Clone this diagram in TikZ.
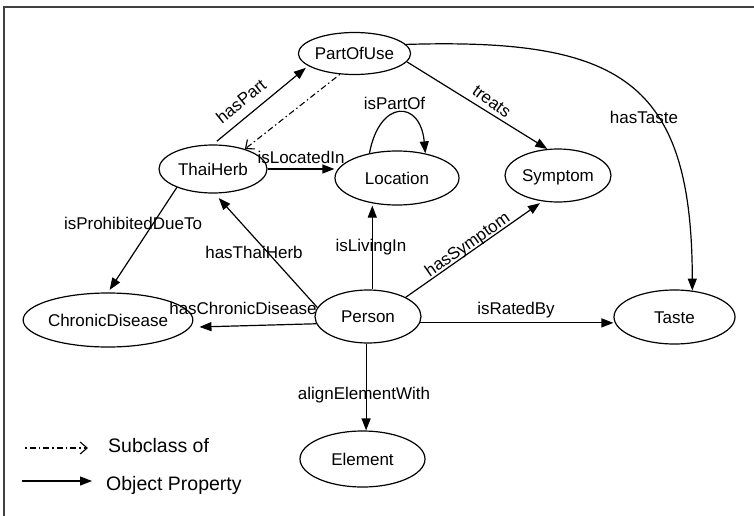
\documentclass[tikz,border=0pt]{standalone}
\usepackage{fontspec}
\setmainfont{Liberation Sans}
\usetikzlibrary{arrows.meta,shapes.geometric}
\begin{document}
\begin{tikzpicture}[x=1pt,y=-1pt,
  concept/.style={ellipse,draw,line width=1.2pt,inner sep=0pt,
    font=\fontsize{17}{20}\selectfont,text height=12pt,text depth=0pt},
  prop/.style={draw,line width=1.2pt,-{Triangle[length=12pt,width=9pt]}},
  subcls/.style={draw,line width=1.1pt,
    dash pattern=on 1.5pt off 3pt on 6pt off 3pt,
    -{Straight Barb[length=7pt,width=12pt,line width=1.1pt]}},
  elabel/.style={font=\fontsize{17}{20}\selectfont,text height=12pt,
    text depth=0pt,inner sep=0pt},
  legendtext/.style={font=\fontsize{19.5}{23}\selectfont,text height=14pt,
    text depth=0pt,inner sep=0pt},
]
\useasboundingbox (0,0) rectangle (754,516);
\fill[white] (0,0) rectangle (754,516);

% page frame (top and left rules)
\draw[line width=2pt,black!75] (4,516) -- (4,7) -- (754,7);

% classes
\node[concept,minimum width=107pt,minimum height=42pt] (partofuse) at (354.5,53.5) {PartOfUse};
\node[concept,minimum width=108pt,minimum height=48pt] (thaiherb) at (213,169) {ThaiHerb};
\node[concept,minimum width=124pt,minimum height=54pt] (location) at (397,178) {Location};
\node[concept,minimum width=106pt,minimum height=53pt] (symptom) at (558,175.5) {Symptom};
\node[concept,minimum width=124pt,minimum height=54pt] (chronic) at (108,320) {ChronicDisease};
\node[concept,minimum width=106pt,minimum height=53pt] (person) at (368,316.5) {Person};
\node[concept,minimum width=121pt,minimum height=54pt] (taste) at (674.5,317) {Taste};
\node[concept,minimum width=125pt,minimum height=56pt] (element) at (362.5,459) {Element};

% object properties
\draw[prop,shorten <=5pt,shorten >=3pt] (thaiherb.north) -- (partofuse.195);
\draw[prop] (thaiherb.east) -- (thaiherb.east -| location.west);
\draw[prop] (location.138) .. controls +(10,-54) and +(-5,-54) .. (location.41);
\draw[prop] (partofuse.-9) -- (symptom.112);
\draw[prop] (partofuse.10) .. controls (620,38) and (692,80) .. (taste.56);
\draw[prop,shorten >=6pt] (person.170) -- (thaiherb.-86);
\draw[prop] (person.81) -- (person.81 |- location.south);
\draw[prop,shorten >=3pt] (person.27) -- (symptom.239);
\draw[prop,shorten >=3pt] (thaiherb.207) -- (chronic.north);
\draw[prop,shorten >=9pt] (person.188) -- (chronic.-5);
\draw[prop] (person.-7) -- (person.-7 -| taste.west);
\draw[prop] (person.-94) -- (person.-94 |- element.north);

% subclass relation
\draw[subcls] (partofuse.235) -- (thaiherb.32);

% property names
\node[elabel,rotate=39] (lhaspart) at (241,101) {hasPart};
\node[elabel] (lislocatedin) at (301,157) {isLocatedIn};
\node[elabel] (lispartof) at (394.5,104) {isPartOf};
\node[elabel,rotate=-36] (ltreats) at (492,101) {treats};
\node[elabel] (lhastaste) at (644,118) {hasTaste};
\node[elabel] (lisprohibited) at (133,223) {isProhibitedDueTo};
\node[elabel] (lhasthaiherb) at (254,252) {hasThaiHerb};
\node[elabel] (lislivingin) at (371,245) {isLivingIn};
\node[elabel,rotate=35] (lhassymptom) at (467,244) {hasSymptom};
\node[elabel] (lhaschronic) at (243,308) {hasChronicDisease};
\node[elabel] (lisratedby) at (516,308) {isRatedBy};
\node[elabel] (lalign) at (364,393) {alignElementWith};

% legend
\coordinate (legsubA) at (25,448);
\coordinate (legsubB) at (88,448);
\coordinate (legpropA) at (22,481);
\coordinate (legpropB) at (92,481);
\draw[subcls] (legsubA) -- (legsubB);
\draw[prop] (legpropA) -- (legpropB);
\node[legendtext,anchor=west] (legsubtext) at (108,445) {Subclass of};
\node[legendtext,anchor=west] (legproptext) at (106,483) {Object Property};
\end{tikzpicture}
\end{document}
